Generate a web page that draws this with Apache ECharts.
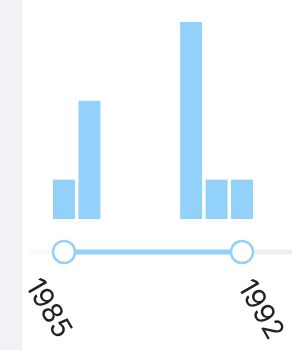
<!DOCTYPE html>
<html>
<head>
<meta charset="utf-8">
<script src="https://cdn.jsdelivr.net/npm/echarts@6/dist/echarts.min.js"></script>
<style>
  html, body { margin: 0; padding: 0; background: #fff; }
  #main { width: 292px; height: 350px; }
</style>
</head>
<body>
<div id="main"></div>
<script>
// data
var years = ['1985', '1986', '1987', '1988', '1989', '1990', '1991', '1992'];
var counts = [1, 3, 0, 0, 0, 5, 1, 1];
var rangeStart = '1985';
var rangeEnd = '1992';

var blue = '#92d1fa';

var chart = echarts.init(document.getElementById('main'));

// slider line: only endpoints get a knob + label
// (label offset is in the rotated frame of the text)
var sliderData = years.map(function (y) {
  var isStart = y === rangeStart, isEnd = y === rangeEnd;
  if (!isStart && !isEnd) return { value: 0, symbolSize: 0 };
  return {
    value: 0,
    symbolSize: 22,
    label: {
      show: true,
      formatter: y,
      position: 'inside',
      align: 'center',
      verticalAlign: 'middle',
      rotate: -60,
      offset: isStart ? [41, 42] : [59, 13]
    }
  };
});

var option = {
  animation: false,
  graphic: [
    { type: 'rect', z: -10, shape: { x: 0, y: 0, width: 22, height: 350 }, style: { fill: '#f1f2f6' } },
    { type: 'rect', z: -10, shape: { x: 30, y: 249.5, width: 30, height: 5 }, style: { fill: '#fafafa' } },
    { type: 'rect', z: -10, shape: { x: 250, y: 249.5, width: 42, height: 5 }, style: { fill: '#efefef' } }
  ],
  grid: [
    { left: 51.3, right: 37.3, top: 22, bottom: 131 },
    { left: 51.3, right: 37.3, top: 242, height: 20 }
  ],
  xAxis: [
    { type: 'category', gridIndex: 0, data: years, show: false },
    { type: 'category', gridIndex: 1, data: years, show: false }
  ],
  yAxis: [
    { type: 'value', gridIndex: 0, min: 0, max: 5, show: false },
    { type: 'value', gridIndex: 1, min: -1, max: 1, show: false }
  ],
  series: [
    {
      type: 'bar',
      xAxisIndex: 0,
      yAxisIndex: 0,
      data: counts,
      barWidth: 22,
      itemStyle: { color: blue }
    },
    {
      type: 'line',
      xAxisIndex: 1,
      yAxisIndex: 1,
      data: sliderData,
      symbol: 'circle',
      showAllSymbol: true,
      lineStyle: { color: blue, width: 5 },
      itemStyle: { color: '#fff', borderColor: blue, borderWidth: 2.5 },
      label: {
        color: '#222',
        fontFamily: 'Inter, Roboto, sans-serif',
        fontSize: 28
      },
      emphasis: { disabled: true }
    }
  ]
};

chart.setOption(option);
</script>
</body>
</html>
